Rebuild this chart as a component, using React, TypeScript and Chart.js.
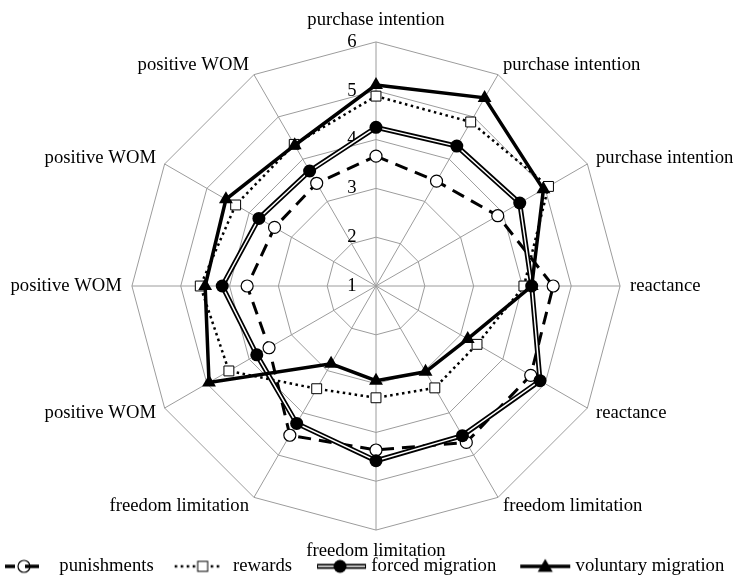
import React, { useEffect, useRef } from 'react';
import { Chart, registerables } from 'chart.js';

Chart.register(...registerables);

const FONT = "'Liberation Serif', 'Times New Roman', serif";
const FS = 18.67;

const CATEGORIES = [
  'purchase intention', 'purchase intention', 'purchase intention',
  'reactance', 'reactance',
  'freedom limitation', 'freedom limitation', 'freedom limitation',
  'positive WOM', 'positive WOM', 'positive WOM', 'positive WOM',
];
const PUNISHMENTS = [3.66, 3.48, 3.88, 4.63, 4.66, 4.70, 4.36, 4.53, 3.53, 3.64, 3.40, 3.43];
const REWARDS = [4.89, 4.88, 5.08, 4.03, 3.39, 3.41, 3.29, 3.43, 4.48, 4.60, 4.32, 4.35];
const FORCED = [4.25, 4.31, 4.40, 4.19, 4.88, 4.54, 4.58, 4.25, 3.82, 4.15, 3.77, 3.72];
const VOLUNTARY = [5.12, 5.45, 4.96, 4.19, 3.17, 3.03, 2.94, 2.84, 4.95, 4.50, 4.55, 4.33];
const TICK_LABELS = [1, 2, 3, 4, 5, 6];
const SERIES_NAMES = ['punishments', 'rewards', 'forced migration', 'voluntary migration'];

const GRID = '#9c9c9c';
const BOX_W = 65;
const CANVAS_W = 81;

// legend sample: [start, end, marker centre] in sample-canvas coordinates
const SAMPLE_GEOM = [
  [28, 62, 47],
  [24, 71, 52],
  [28, 77, 51],
  [27, 77, 52],
];

function makeSample(kind: number): HTMLCanvasElement {
  const c = document.createElement('canvas');
  c.width = CANVAS_W;
  c.height = 22;
  const g = c.getContext('2d') as CanvasRenderingContext2D;
  const cy = 11;
  const [s, e, m] = SAMPLE_GEOM[kind];
  g.strokeStyle = '#000';
  g.fillStyle = '#000';
  if (kind === 0) {
    g.lineWidth = 3.5;
    g.beginPath(); g.moveTo(s, cy); g.lineTo(s + 10, cy); g.stroke();
    g.lineWidth = 1.2;
    g.fillStyle = '#fff';
    g.beginPath(); g.arc(m, cy, 6, 0, Math.PI * 2); g.fill(); g.stroke();
    g.lineWidth = 3.5;
    g.beginPath(); g.moveTo(m + 1, cy); g.lineTo(e, cy); g.stroke();
  } else if (kind === 1) {
    g.lineWidth = 2.5;
    g.setLineDash([2.5, 3.5]);
    g.beginPath(); g.moveTo(s, cy); g.lineTo(e, cy); g.stroke();
    g.setLineDash([]);
    g.lineWidth = 1;
    g.fillStyle = '#fff';
    g.fillRect(m - 5, cy - 5, 10, 10);
    g.strokeRect(m - 5, cy - 5, 10, 10);
  } else if (kind === 2) {
    g.lineWidth = 5;
    g.beginPath(); g.moveTo(s, cy); g.lineTo(e, cy); g.stroke();
    g.strokeStyle = '#fff';
    g.lineWidth = 1.5;
    g.beginPath(); g.moveTo(s + 1, cy); g.lineTo(e - 1, cy); g.stroke();
    g.fillStyle = '#000';
    g.beginPath(); g.arc(m, cy, 6.5, 0, Math.PI * 2); g.fill();
  } else {
    g.lineWidth = 3.5;
    g.beginPath(); g.moveTo(s, cy); g.lineTo(e, cy); g.stroke();
    g.beginPath();
    g.moveTo(m, cy - 7.5);
    g.lineTo(m + 7.5, cy + 5.5);
    g.lineTo(m - 7.5, cy + 5.5);
    g.closePath();
    g.fill();
  }
  return c;
}

const tickLabelPlugin = {
  id: 'tickLabelPlugin',
  beforeDatasetsDraw(chart: any) {
    const s = chart.scales.r;
    const ctx = chart.ctx;
    ctx.save();
    ctx.font = `${FS}px ${FONT}`;
    ctx.fillStyle = '#000';
    ctx.textAlign = 'center';
    ctx.textBaseline = 'middle';
    TICK_LABELS.forEach((v) => {
      const d = s.getDistanceFromCenterForValue(v);
      ctx.fillText(String(v), s.xCenter - 24, s.yCenter - d);
    });
    ctx.restore();
  },
};

export default function App() {
  const ref = useRef<HTMLCanvasElement | null>(null);
  useEffect(() => {
    if (!ref.current) return;
    const samples = [0, 1, 2, 3].map(makeSample);
    const chart = new Chart(ref.current, {
      type: 'radar',
      data: {
        labels: CATEGORIES,
        datasets: [
          {
            label: SERIES_NAMES[0],
            data: PUNISHMENTS,
            order: 4,
            borderColor: '#000',
            borderWidth: 3,
            borderDash: [13, 8],
            fill: false,
            pointStyle: 'circle',
            pointRadius: 6,
            pointBackgroundColor: '#fff',
            pointBorderColor: '#000',
            pointBorderWidth: 1.2,
          },
          {
            label: SERIES_NAMES[1],
            data: REWARDS,
            order: 3,
            borderColor: '#000',
            borderWidth: 2.5,
            borderDash: [2.5, 3.5],
            fill: false,
            pointStyle: 'rect',
            pointRadius: 7,
            pointBackgroundColor: '#fff',
            pointBorderColor: '#000',
            pointBorderWidth: 1,
          },
          {
            label: SERIES_NAMES[2],
            data: FORCED,
            order: 2,
            borderColor: '#000',
            borderWidth: 5,
            fill: false,
            pointRadius: 0,
          },
          {
            label: SERIES_NAMES[2] + ' inner',
            data: FORCED,
            order: 1,
            borderColor: '#fff',
            borderWidth: 1.5,
            fill: false,
            pointStyle: 'circle',
            pointRadius: 6.5,
            pointBackgroundColor: '#000',
            pointBorderColor: '#000',
            pointBorderWidth: 0,
          },
          {
            label: SERIES_NAMES[3],
            data: VOLUNTARY,
            order: 0,
            borderColor: '#000',
            borderWidth: 3.5,
            fill: false,
            pointStyle: 'triangle',
            pointRadius: 8,
            pointBackgroundColor: '#000',
            pointBorderColor: '#000',
            pointBorderWidth: 0,
          },
        ],
      },
      options: {
        responsive: false,
        animation: false,
        events: [],
        layout: { padding: { top: 20, left: -25, right: -38, bottom: 0 } },
        elements: { line: { tension: 0 } },
        scales: {
          r: {
            min: 1,
            max: 6,
            beginAtZero: false,
            ticks: { display: false, stepSize: 1 },
            grid: { color: GRID, lineWidth: 1 },
            angleLines: { color: GRID, lineWidth: 1 },
            pointLabels: {
              color: '#000',
              font: { family: FONT, size: FS, lineHeight: 0.05 },
              padding: (ctx: any) => (ctx.index === 0 || ctx.index === 6 ? 21 : 10),
            },
          },
        },
        plugins: {
          tooltip: { enabled: false },
          legend: {
            position: 'bottom',
            align: 'start',
            maxHeight: 25,
            labels: {
              color: '#000',
              font: { family: FONT, size: FS },
              usePointStyle: true,
              pointStyleWidth: BOX_W,
              padding: 5,
              generateLabels: () =>
                SERIES_NAMES.map((name, i) => ({
                  text: name,
                  pointStyle: samples[i],
                  fillStyle: '#000',
                  strokeStyle: '#000',
                  lineWidth: 0,
                  hidden: false,
                  datasetIndex: i,
                  fontColor: '#000',
                })),
            },
          },
        },
      },
      plugins: [tickLabelPlugin],
    } as any);
    return () => chart.destroy();
  }, []);
  return (
    <div style={{ position: 'absolute', left: 0, top: 0, width: 734, height: 577, overflow: 'hidden' }}>
      <canvas
        ref={ref}
        width={734}
        height={577}
        style={{ display: 'block', position: 'absolute', left: 5, top: 0 }}
      />
    </div>
  );
}
